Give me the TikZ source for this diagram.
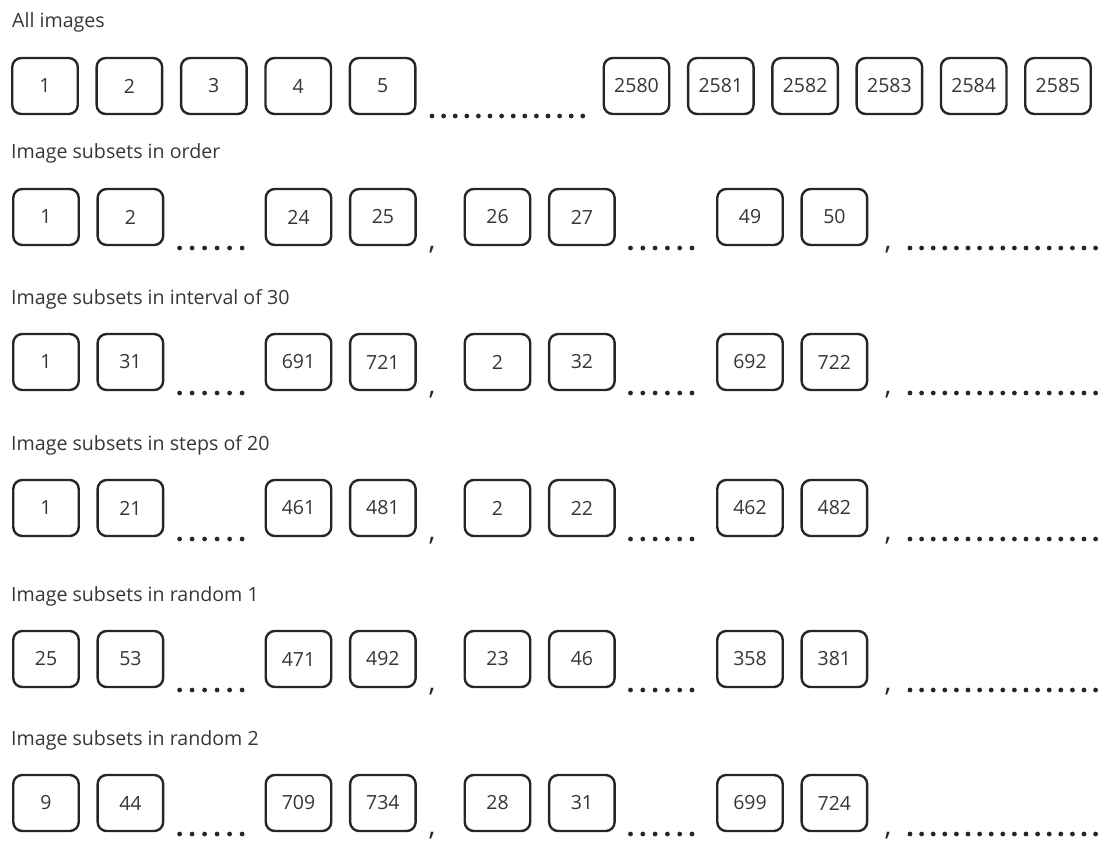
\documentclass[tikz,border=0pt]{standalone}
\usepackage{fontspec}
\setmainfont{Open Sans}
\definecolor{boxgray}{HTML}{262626}
\definecolor{txtgray}{HTML}{363636}
\begin{document}
\begin{tikzpicture}[x=1pt,y=-1pt,
  cell/.style={draw=boxgray, line width=2.4pt, rounded corners=9pt,
    minimum width=65.5pt, minimum height=56pt, inner sep=0pt,
    text=txtgray, font=\fontsize{19.5}{22}\selectfont},
  heading/.style={anchor=base west, inner sep=0pt, text=txtgray,
    font=\fontsize{19.6}{23}\selectfont},
  sepmark/.style={anchor=base, inner sep=0pt, text=boxgray,
    font=\fontsize{28}{30}\selectfont},
  ellipsisdot/.style={fill=boxgray, draw=none}]
\useasboundingbox (0,0) rectangle (1099,841);

% ---- all images ----
\node[heading] (allhead) at (12,27) {All images};
\foreach \x/\lab [count=\k] in {45/1,129.4/2,213.8/3,298.2/4,382.6/5,
    636.5/2580,720.8/2581,805.1/2582,889.4/2583,973.7/2584,1058/2585}
  \node[cell] (all-\k) at (\x,86) {\lab};
\foreach \i in {0,...,13}
  \fill[ellipsisdot] (432+11.6*\i,116) circle (2.4pt);

% ---- subset rows ----
\foreach \row/\cy/\ty/\title/\a/\b/\c/\d/\e/\f/\g/\h in {
    ord/217/158/Image subsets in order/1/2/24/25/26/27/49/50,
    ivl/362/304/Image subsets in interval of 30/1/31/691/721/2/32/692/722,
    stp/508/450/Image subsets in steps of 20/1/21/461/481/2/22/462/482,
    rnda/659/601/Image subsets in random 1/25/53/471/492/23/46/358/381,
    rndb/803/745/Image subsets in random 2/9/44/709/734/28/31/699/724}{
  \node[heading] (\row-head) at (11,\ty) {\title};
  \foreach \x/\lab [count=\k] in {46/\a,130.4/\b,298.5/\c,382.9/\d,
      497.5/\e,581.9/\f,750/\g,834.4/\h}
    \node[cell] (\row-\k) at (\x,\cy) {\lab};
  \foreach \i in {0,...,5}{
    \fill[ellipsisdot] (179.6+12.5*\i,\cy+31) circle (2.4pt);
    \fill[ellipsisdot] (630.5+12.3*\i,\cy+31) circle (2.4pt);
  }
  \foreach \i in {0,...,16}
    \fill[ellipsisdot] (910+11.6*\i,\cy+31) circle (2.4pt);
  \node[sepmark] (\row-sepa) at (432,\cy+32) {,};
  \node[sepmark] (\row-sepb) at (888,\cy+32) {,};
}
\end{tikzpicture}
\end{document}
